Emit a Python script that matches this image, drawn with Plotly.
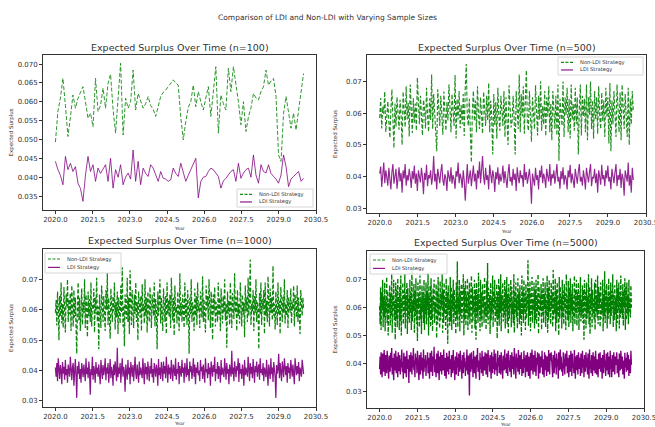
import numpy as np
import plotly.graph_objects as go

# ---------------- data (values read/estimated from the reference) ----------------
start_year, end_year = 2020.0, 2030.0
sample_sizes = [100, 500, 1000, 5000]
series_names = ["Non-LDI Strategy", "LDI Strategy"]

non_ldi_100 = [0.0493, 0.0575, 0.0610, 0.0662, 0.0590, 0.0508, 0.0560, 0.0618, 0.0583, 0.0609,
               0.0625, 0.0640, 0.0600, 0.0556, 0.0570, 0.0534, 0.0662, 0.0574, 0.0590, 0.0636,
               0.0583, 0.0649, 0.0673, 0.0580, 0.0517, 0.0600, 0.0702, 0.0512, 0.0609, 0.0583,
               0.0600, 0.0684, 0.0578, 0.0622, 0.0600, 0.0583, 0.0595, 0.0614, 0.0590, 0.0580,
               0.0561, 0.0590, 0.0614, 0.0625, 0.0631, 0.0640, 0.0650, 0.0658, 0.0650, 0.0644,
               0.0560, 0.0499, 0.0547, 0.0585, 0.0600, 0.0644, 0.0587, 0.0627, 0.0600, 0.0578,
               0.0610, 0.0640, 0.0561, 0.0620, 0.0693, 0.0517, 0.0618, 0.0595, 0.0578, 0.0689,
               0.0627, 0.0693, 0.0650, 0.0600, 0.0539, 0.0600, 0.0521, 0.0560, 0.0583, 0.0622,
               0.0610, 0.0605, 0.0627, 0.0640, 0.0684, 0.0644, 0.0655, 0.0662, 0.0614, 0.0459,
               0.0442, 0.0569, 0.0614, 0.0574, 0.0530, 0.0570, 0.0525, 0.0578, 0.0630, 0.0675]
ldi_100 = [0.0442, 0.0420, 0.0405, 0.0380, 0.0455, 0.0420, 0.0437, 0.0415, 0.0428, 0.0384,
           0.0370, 0.0336, 0.0406, 0.0455, 0.0415, 0.0433, 0.0389, 0.0424, 0.0410, 0.0420,
           0.0433, 0.0389, 0.0450, 0.0371, 0.0420, 0.0400, 0.0433, 0.0380, 0.0400, 0.0411,
           0.0395, 0.0472, 0.0389, 0.0442, 0.0380, 0.0424, 0.0410, 0.0402, 0.0433, 0.0424,
           0.0405, 0.0389, 0.0415, 0.0397, 0.0395, 0.0389, 0.0393, 0.0424, 0.0410, 0.0402,
           0.0437, 0.0410, 0.0389, 0.0405, 0.0420, 0.0433, 0.0450, 0.0345, 0.0389, 0.0400,
           0.0402, 0.0415, 0.0424, 0.0420, 0.0410, 0.0402, 0.0371, 0.0390, 0.0397, 0.0406,
           0.0415, 0.0420, 0.0389, 0.0437, 0.0397, 0.0411, 0.0420, 0.0424, 0.0400, 0.0459,
           0.0406, 0.0384, 0.0433, 0.0415, 0.0411, 0.0433, 0.0410, 0.0402, 0.0395, 0.0384,
           0.0406, 0.0459, 0.0428, 0.0375, 0.0395, 0.0402, 0.0410, 0.0415, 0.0389, 0.0397]

# dense panels: estimated values in units of 0.0001
non_ldi_500 = [
    585, 648, 552, 620, 598, 668, 541, 603, 637, 575, 522, 612, 675, 580, 490, 630, 558, 651, 605, 548,
    642, 593, 500, 668, 612, 556, 685, 580, 633, 527, 690, 602, 538, 647, 570, 630, 545, 712, 610, 565,
    655, 588, 530, 642, 615, 552, 680, 593, 541, 646, 578, 722, 550, 660, 605, 565, 480, 675, 612, 560,
    655, 590, 532, 668, 600, 545, 635, 578, 690, 585, 540, 660, 602, 560, 720, 520, 645, 580, 670, 553,
    625, 565, 660, 528, 680, 755, 590, 560, 645, 530, 445, 610, 670, 575, 640, 540, 685, 595, 550, 650,
    600, 535, 668, 602, 560, 655, 578, 695, 540, 640, 585, 470, 660, 562, 635, 520, 680, 590, 545, 655,
    610, 560, 670, 525, 650, 595, 500, 688, 602, 555, 575, 655, 580, 470, 670, 600, 550, 722, 540, 660,
    590, 685, 535, 640, 735, 568, 545, 670, 600, 510, 650, 585, 550, 688, 625, 530, 655, 580, 700, 545,
    622, 565, 670, 528, 650, 590, 685, 540, 630, 515, 670, 595, 550, 655, 530, 690, 450, 645, 580, 560,
    700, 525, 650, 595, 680, 540, 645, 520, 690, 580, 630, 545, 680, 565, 650, 470, 615, 690, 530, 655,
    590, 645, 540, 690, 515, 650, 595, 700, 550, 640, 520, 670, 580, 650, 535, 685, 590, 550, 665, 575,
    640, 525, 680, 590, 650, 505, 695, 480, 640, 565, 670, 580, 525, 690, 610, 540, 665, 515, 690, 585,
    550, 660, 590, 525, 680, 500, 645, 565, 670, 605]
ldi_500 = [
    410, 432, 368, 405, 445, 380, 420, 398, 372, 428, 395, 360, 415, 440, 378, 405, 425, 362, 398, 430,
    385, 412, 350, 420, 395, 440, 372, 405, 388, 425, 400, 365, 418, 392, 435, 378, 410, 355, 420, 398,
    382, 428, 400, 345, 412, 390, 438, 370, 405, 395, 420, 375, 400, 465, 385, 410, 360, 425, 398, 380,
    415, 440, 390, 372, 408, 395, 355, 420, 400, 385, 430, 378, 405, 392, 362, 418, 400, 445, 380, 410,
    395, 365, 420, 388, 325, 405, 440, 378, 400, 420, 370, 398, 435, 385, 410, 360, 420, 395, 448, 380,
    415, 465, 400, 375, 428, 390, 405, 360, 438, 395, 380, 420, 400, 352, 415, 392, 430, 375, 410, 385,
    400, 435, 380, 418, 395, 365, 410, 440, 385, 400, 372, 425, 390, 410, 355, 430, 398, 380, 420, 395,
    405, 368, 440, 390, 415, 378, 400, 425, 385, 315, 410, 395, 372, 428, 390, 405, 360, 420, 398, 435,
    380, 410, 395, 365, 425, 400, 385, 440, 372, 408, 395, 420, 378, 405, 440, 385, 400, 362, 418, 392,
    430, 375, 405, 395, 360, 420, 398, 438, 380, 410, 390, 365, 425, 400, 378, 415, 440, 385, 400, 372,
    420, 395, 360, 428, 405, 382, 415, 440, 370, 400, 395, 425, 380, 410, 350, 420, 400, 375, 438, 392,
    405, 370, 420, 395, 435, 385, 400, 360, 425, 398, 380, 415, 440, 370, 405, 390, 425, 365, 410, 395,
    340, 420, 400, 385, 445, 372, 405, 350, 428, 390]
non_ldi_1000 = [
    590, 632, 548, 660, 605, 500, 645, 578, 690, 555, 620, 540, 675, 598, 525, 650, 612, 700, 560, 635,
    585, 655, 530, 680, 600, 545, 665, 575, 640, 520, 455, 620, 690, 565, 640, 530, 600, 670, 550, 625,
    588, 700, 540, 650, 605, 510, 660, 580, 635, 560, 690, 545, 620, 600, 670, 525, 640, 585, 705, 560,
    610, 470, 650, 595, 540, 680, 615, 560, 645, 590, 530, 665, 600, 720, 550, 640, 580, 505, 670, 610,
    560, 645, 595, 690, 535, 625, 575, 660, 520, 640, 600, 555, 680, 590, 740, 545, 615, 480, 650, 600,
    570, 705, 560, 640, 520, 730, 595, 550, 665, 610, 540, 650, 585, 690, 560, 625, 500, 660, 600, 575,
    645, 530, 685, 595, 620, 555, 700, 580, 640, 525, 660, 600, 560, 675, 590, 540, 650, 615, 580, 690,
    545, 635, 600, 470, 660, 580, 625, 700, 555, 640, 590, 530, 670, 605, 560, 645, 520, 690, 585, 630,
    575, 650, 540, 705, 600, 565, 640, 515, 680, 590, 610, 555, 660, 590, 530, 720, 580, 625, 560, 650,
    600, 540, 690, 575, 635, 550, 665, 605, 455, 640, 585, 700, 560, 625, 600, 530, 670, 580, 645, 550,
    690, 595, 620, 540, 660, 605, 575, 710, 560, 635, 590, 525, 680, 600, 645, 565, 700, 580, 540, 660,
    615, 500, 650, 590, 675, 545, 625, 600, 560, 690, 580, 640, 530, 670, 605, 555, 645, 590, 700, 565,
    620, 475, 660, 585, 630, 550, 690, 600, 540, 655, 605, 570, 720, 590, 640, 530, 665, 580, 620, 555,
    690, 600, 545, 650, 585, 625, 510, 680, 595, 640, 560, 705, 580, 635, 765, 550, 620, 595, 665, 530,
    645, 590, 700, 560, 625, 600, 470, 655, 585, 690, 550, 635, 600, 665, 520, 690, 580, 630, 560, 710,
    605, 545, 670, 590, 640, 565, 745, 580, 620, 535, 660, 600, 550, 690, 585, 630, 520, 675, 605, 560,
    645, 590, 700, 555, 620, 580, 665, 540, 640, 600, 590, 670, 555, 625, 600, 680, 545, 650, 610, 575,
    680, 560, 640, 595, 520, 665, 605, 580, 640, 600]
ldi_1000 = [
    410, 380, 425, 365, 440, 395, 372, 418, 400, 355, 428, 390, 412, 370, 435, 385, 405, 360, 420, 398,
    380, 445, 395, 368, 410, 425, 350, 400, 438, 385, 310, 415, 390, 430, 372, 405, 360, 425, 395, 378,
    420, 400, 365, 440, 388, 410, 375, 430, 395, 320, 405, 385, 445, 370, 415, 398, 360, 428, 390, 410,
    380, 420, 395, 355, 435, 400, 372, 418, 385, 405, 440, 368, 410, 390, 425, 360, 400, 438, 375, 412,
    395, 350, 420, 385, 430, 400, 365, 475, 378, 410, 390, 425, 360, 405, 440, 380, 412, 395, 330, 420,
    400, 370, 435, 388, 410, 355, 428, 395, 380, 418, 365, 405, 445, 390, 372, 420, 398, 360, 430, 385,
    410, 395, 375, 440, 400, 355, 425, 388, 412, 370, 430, 398, 365, 415, 390, 440, 378, 405, 360, 425,
    395, 380, 420, 400, 350, 438, 385, 410, 372, 428, 400, 365, 430, 390, 415, 375, 445, 395, 360, 420,
    388, 410, 372, 435, 398, 365, 420, 400, 382, 440, 370, 405, 390, 428, 355, 415, 400, 380, 435, 392,
    410, 360, 425, 398, 378, 440, 385, 405, 365, 430, 395, 415, 372, 400, 440, 380, 420, 355, 410, 392,
    428, 385, 400, 365, 435, 398, 412, 372, 420, 390, 360, 440, 395, 405, 375, 425, 388, 410, 350, 430,
    400, 380, 418, 395, 445, 365, 405, 390, 428, 372, 415, 398, 360, 435, 385, 410, 395, 378, 440, 400,
    370, 425, 390, 405, 355, 420, 398, 380, 465, 388, 410, 365, 430, 395, 378, 415, 400, 440, 362, 425,
    390, 405, 372, 420, 398, 350, 435, 385, 410, 395, 380, 445, 400, 365, 425, 390, 412, 375, 438, 398,
    360, 415, 395, 430, 380, 405, 420, 370, 440, 392, 405, 385, 425, 365, 410, 398, 378, 435, 395, 350,
    420, 400, 372, 440, 388, 410, 362, 428, 395, 380, 310, 418, 390, 405, 455, 375, 425, 398, 365, 430,
    395, 378, 440, 400, 385, 415, 360, 425, 392, 410, 372, 435, 398, 380, 420, 395, 355, 440, 405, 385,
    415, 390, 428, 365, 410, 400, 380, 435, 395, 388]
non_ldi_5000 = [
    605, 540, 672, 520, 655, 590, 700, 530, 640, 565, 690, 515, 630, 580, 710, 545, 660, 500, 620, 595,
    680, 535, 650, 570, 720, 510, 645, 590, 700, 555, 625, 485, 690, 560, 665, 530, 705, 585, 640, 520,
    675, 550, 715, 500, 630, 600, 690, 540, 660, 575, 720, 525, 645, 590, 690, 505, 670, 560, 635, 545,
    700, 580, 655, 520, 740, 550, 625, 590, 685, 510, 660, 570, 705, 540, 630, 480, 690, 595, 650, 530,
    715, 560, 640, 505, 680, 585, 655, 545, 700, 520, 635, 575, 690, 540, 660, 590, 725, 500, 645, 565,
    680, 530, 705, 555, 640, 515, 670, 595, 700, 545, 620, 580, 685, 490, 660, 540, 710, 570, 635, 525,
    695, 555, 650, 600, 720, 510, 665, 545, 690, 580, 640, 520, 705, 565, 655, 470, 680, 590, 630, 535,
    710, 550, 675, 520, 650, 595, 700, 540, 665, 575, 625, 505, 690, 560, 765, 530, 640, 585, 700, 515,
    660, 570, 685, 545, 630, 590, 720, 500, 670, 555, 695, 535, 645, 580, 705, 520, 655, 565, 690, 540,
    630, 595, 715, 510, 675, 550, 640, 580, 700, 525, 665, 485, 690, 570, 650, 545, 725, 590, 635, 515,
    700, 560, 655, 530, 685, 600, 640, 545, 710, 575, 620, 520, 695, 565, 760, 540, 670, 590, 645, 505,
    690, 555, 630, 580, 715, 530, 660, 595, 700, 545, 640, 570, 685, 490, 655, 560, 705, 535, 675, 580,
    720, 515, 645, 590, 690, 550, 630, 570, 700, 525, 665, 585, 710, 540, 650, 505, 685, 560, 640, 595,
    700, 530, 675, 575, 625, 545, 720, 510, 660, 585, 690, 565, 640, 525, 705, 590, 655, 540, 680, 560,
    630, 500, 715, 575, 665, 545, 700, 585, 650, 520, 685, 560, 640, 600, 770, 535, 670, 570, 695, 515,
    655, 580, 710, 545, 630, 590, 690, 525, 665, 555, 700, 540, 645, 585, 720, 505, 675, 565, 640, 590,
    685, 520, 660, 575, 705, 545, 650, 595, 690, 530, 625, 570, 715, 510, 670, 555, 700, 585, 645, 540,
    690, 595, 655, 530, 735, 560, 640, 580, 705, 515, 665, 545, 690, 575, 630, 500, 710, 560, 675, 590,
    640, 525, 700, 565, 660, 540, 685, 595, 650, 520, 720, 580, 635, 555, 695, 530, 670, 570, 705, 545,
    650, 590, 685, 515, 640, 565, 715, 540, 665, 580, 700, 535, 655, 595, 690, 520, 645, 575, 710, 550,
    630, 570, 680, 545, 665, 485, 700, 590, 655, 525, 690, 560, 640, 580, 720, 540, 675, 505, 650, 595,
    705, 530, 665, 575, 630, 555, 690, 520, 700, 585, 645, 565, 715, 540, 675, 595, 655, 530, 690, 560,
    620, 580, 700, 515, 650, 570, 730, 545, 665, 590, 685, 525, 640, 560, 705, 580, 655, 540, 690, 570,
    660, 595, 720, 530, 645, 555, 680, 575, 635, 515, 700, 545, 670, 590, 690, 525, 655, 565, 715, 580,
    640, 560, 685, 535, 660, 600, 705, 520, 675, 555, 690, 575, 645, 540, 700, 585, 630, 565, 680, 600]
ldi_5000 = [
    380, 425, 360, 440, 395, 350, 435, 405, 370, 448, 390, 355, 430, 400, 365, 445, 380, 410, 345, 428,
    400, 370, 438, 385, 455, 360, 420, 395, 340, 435, 410, 375, 445, 365, 425, 390, 350, 440, 400, 372,
    430, 360, 415, 385, 450, 370, 405, 345, 438, 395, 365, 425, 400, 350, 445, 380, 415, 390, 330, 430,
    405, 370, 440, 395, 360, 428, 385, 455, 375, 410, 350, 435, 395, 420, 365, 445, 380, 405, 340, 430,
    398, 360, 440, 375, 420, 390, 345, 450, 370, 415, 385, 430, 355, 410, 395, 440, 365, 420, 380, 345,
    438, 400, 370, 445, 385, 355, 425, 395, 460, 368, 415, 380, 350, 435, 400, 365, 445, 390, 340, 425,
    372, 440, 395, 360, 430, 405, 375, 450, 385, 355, 420, 390, 345, 438, 400, 370, 425, 360, 445, 395,
    380, 415, 350, 430, 392, 365, 448, 375, 410, 340, 425, 395, 360, 440, 385, 420, 355, 435, 400, 370,
    445, 380, 410, 345, 430, 395, 365, 440, 385, 420, 355, 405, 375, 450, 390, 360, 428, 400, 285, 435,
    395, 370, 440, 380, 415, 350, 445, 390, 365, 425, 400, 345, 430, 385, 455, 370, 410, 395, 340, 438,
    380, 420, 365, 445, 395, 355, 425, 400, 375, 440, 410, 360, 435, 385, 350, 448, 395, 420, 370, 430,
    390, 345, 440, 405, 365, 425, 380, 450, 360, 415, 435, 375, 400, 355, 445, 390, 420, 365, 430, 385,
    360, 440, 395, 410, 345, 428, 400, 375, 450, 380, 420, 365, 435, 390, 355, 445, 385, 410, 370, 430,
    395, 350, 440, 400, 380, 425, 360, 455, 390, 415, 345, 435, 385, 420, 370, 448, 395, 360, 430, 405,
    380, 440, 355, 415, 395, 365, 445, 385, 420, 350, 430, 400, 370, 440, 390, 355, 425, 395, 345, 438,
    410, 375, 450, 385, 360, 430, 400, 370, 445, 390, 355, 420, 395, 440, 380, 345, 435, 405, 365, 425,
    400, 385, 445, 360, 415, 390, 350, 440, 375, 430, 385, 355, 425, 400, 370, 448, 390, 360, 435, 410,
    440, 380, 405, 350, 430, 395, 365, 445, 385, 420, 360, 435, 390, 415, 345, 440, 400, 375, 450, 380,
    425, 370, 400, 355, 440, 390, 410, 360, 435, 395, 390, 445, 365, 420, 380, 350, 430, 405, 370, 445,
    410, 355, 435, 385, 400, 365, 448, 390, 345, 425, 375, 430, 395, 360, 440, 405, 380, 420, 355, 435,
    400, 365, 445, 385, 415, 350, 430, 395, 370, 440, 385, 420, 360, 435, 395, 345, 450, 380, 410, 365,
    430, 390, 355, 440, 400, 375, 425, 365, 445, 385, 360, 415, 395, 350, 435, 400, 380, 440, 370, 420,
    405, 345, 430, 390, 365, 448, 385, 410, 355, 435, 395, 375, 440, 360, 425, 390, 350, 445, 380, 415,
    350, 430, 400, 370, 440, 385, 360, 425, 395, 405, 440, 365, 415, 385, 350, 435, 400, 375, 445, 390,
    380, 425, 360, 410, 395, 345, 438, 385, 420, 370, 400, 440, 375, 430, 355, 415, 390, 365, 445, 395]

unit = 1e-4
panel_values = {
    100: (non_ldi_100, ldi_100),
    500: ([v * unit for v in non_ldi_500], [v * unit for v in ldi_500]),
    1000: ([v * unit for v in non_ldi_1000], [v * unit for v in ldi_1000]),
    5000: ([v * unit for v in non_ldi_5000], [v * unit for v in ldi_5000]),
}

# ---------------- layout geometry ----------------
W, H = 655, 427
def px(x):
    return x / W
def py(y):
    return 1 - y / H

# axes boxes in pixels: (left, top, right, bottom)
boxes = {
    100: (43, 55, 316, 210),
    500: (367, 55, 646, 213),
    1000: (43, 249, 316, 407),
    5000: (367, 251, 644, 408),
}
y_ranges = {100: [0.0313, 0.0724], 500: [0.0286, 0.0783], 1000: [0.028, 0.080], 5000: [0.024, 0.0803]}
y_ticks = {100: [0.035, 0.04, 0.045, 0.05, 0.055, 0.06, 0.065, 0.07],
           500: [0.03, 0.04, 0.05, 0.06, 0.07], 1000: [0.03, 0.04, 0.05, 0.06, 0.07],
           5000: [0.03, 0.04, 0.05, 0.06, 0.07]}
y_fmt = {100: ".3f", 500: ".2f", 1000: ".2f", 5000: ".2f"}
x_ticks = [2020.0, 2021.5, 2023.0, 2024.5, 2026.0, 2027.5, 2029.0, 2030.5]
# legend boxes in pixels: (left, top, right, bottom)
legend_boxes = {
    100: (237, 189, 313, 207),
    500: (558, 57, 643, 75),
    1000: (45, 253, 121, 273),
    5000: (370, 254, 447, 274),
}
# line styling per panel: (green rgba, purple rgba, width)
panel_style = {
    100: ("rgba(0,128,0,0.82)", "rgba(128,0,128,0.78)", 1.0),
    500: ("rgba(0,128,0,0.88)", "rgba(128,0,128,0.85)", 1.15),
    1000: ("rgba(0,128,0,0.95)", "rgba(128,0,128,0.92)", 1.25),
    5000: ("rgba(0,128,0,1.0)", "rgba(128,0,128,1.0)", 1.35),
}
FONT = "DejaVu Sans"
TXT = "#333333"

fig = go.Figure()
layout = dict(
    width=W, height=H, margin=dict(l=0, r=0, t=0, b=0),
    paper_bgcolor="white", plot_bgcolor="white",
    font=dict(family=FONT, color=TXT),
    showlegend=False,
)
annotations = []
shapes = []

for k, n in enumerate(sample_sizes):
    idx = "" if k == 0 else str(k + 1)
    xa, ya = "x" + idx, "y" + idx
    non_ldi, ldi = panel_values[n]
    green, purple, lw = panel_style[n]
    for vals, name, color, dash in ((non_ldi, series_names[0], green, "4px,2px"),
                                    (ldi, series_names[1], purple, "solid")):
        xs = np.linspace(start_year, end_year, len(vals))
        fig.add_trace(go.Scatter(x=xs, y=vals, mode="lines", name=name,
                                 line=dict(color=color, width=lw, dash=dash),
                                 xaxis=xa, yaxis=ya))
    l, t, r, b = boxes[n]
    axis_common = dict(showline=True, linecolor=TXT, linewidth=0.8, mirror=True,
                       ticks="outside", ticklen=3, tickwidth=0.8, tickcolor=TXT,
                       showgrid=False, zeroline=False, automargin=False,
                       ticklabeloverflow="allow",
                       tickfont=dict(size=7, color=TXT, family=FONT))
    layout["xaxis" + idx] = dict(axis_common, domain=[px(l), px(r)], range=[2019.5, 2030.5],
                                 tickvals=x_ticks, tickformat=".1f", anchor=ya)
    layout["yaxis" + idx] = dict(axis_common, domain=[py(b), py(t)], range=y_ranges[n],
                                 tickvals=y_ticks[n], tickformat=y_fmt[n], anchor=xa)
    cx = (l + r) / 2
    annotations.append(dict(text=f"Expected Surplus Over Time (n={n})", x=px(cx), y=py(t - 8),
                            xref="paper", yref="paper", showarrow=False, xanchor="center",
                            yanchor="middle", font=dict(size=9.5, color=TXT, family=FONT)))
    year_y = b + 18 if t < 100 else b + 16.5
    annotations.append(dict(text="Year", x=px(cx), y=py(year_y), xref="paper", yref="paper",
                            showarrow=False, xanchor="center", yanchor="middle",
                            font=dict(size=4.6, color=TXT, family=FONT)))
    annotations.append(dict(text="Expected Surplus", x=px(l - 32), y=py((t + b) / 2), xref="paper",
                            yref="paper", showarrow=False, textangle=-90, xanchor="center",
                            yanchor="middle", font=dict(size=5.5, color=TXT, family=FONT)))

    # legend (box, line samples, labels)
    bl, bt, br, bb = legend_boxes[n]
    shapes.append(dict(type="rect", xref="paper", yref="paper", x0=px(bl), x1=px(br),
                       y0=py(bb), y1=py(bt), fillcolor="rgba(255,255,255,0.85)",
                       line=dict(color="#cccccc", width=0.8), layer="above"))
    rows = [(bt + (bb - bt) * 0.3, "rgba(0,128,0,0.9)", "3px,1.5px", series_names[0]),
            (bt + (bb - bt) * 0.72, "rgba(128,0,128,0.9)", "solid", series_names[1])]
    for ry, color, dash, label in rows:
        shapes.append(dict(type="line", xref="paper", yref="paper", x0=px(bl + 3), x1=px(bl + 15),
                           y0=py(ry), y1=py(ry), line=dict(color=color, width=1.2, dash=dash),
                           layer="above"))
        annotations.append(dict(text=label, x=px(bl + 20), y=py(ry), xref="paper", yref="paper",
                                showarrow=False, xanchor="left", yanchor="middle",
                                font=dict(size=5.2, color=TXT, family=FONT)))

annotations.append(dict(text="Comparison of LDI and Non-LDI with Varying Sample Sizes",
                        x=px(327), y=py(17), xref="paper", yref="paper", showarrow=False,
                        xanchor="center", yanchor="middle",
                        font=dict(size=7.5, color=TXT, family=FONT)))
layout["annotations"] = annotations
layout["shapes"] = shapes
fig.update_layout(**layout)
fig.write_html("out.html")
